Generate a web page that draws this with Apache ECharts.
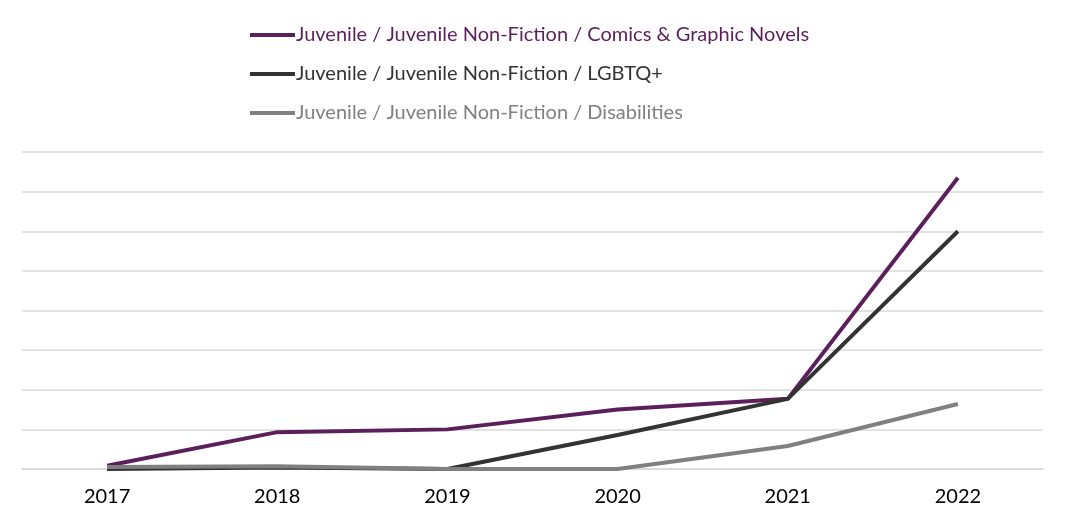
<!DOCTYPE html>
<html><head><meta charset="utf-8">
<script src="https://cdn.jsdelivr.net/npm/echarts@6/dist/echarts.min.js"></script>
<style>html,body{margin:0;padding:0;background:#fff}#c{width:1065px;height:529px}</style>
</head><body><div id="c"></div>
<script>
const categories = ['2017','2018','2019','2020','2021','2022'];
const comics = [0.08, 0.93, 1.0, 1.5, 1.77, 7.35];
const lgbtq = [0, 0.04, 0, 0.86, 1.77, 6.0];
const disabilities = [0.05, 0.07, 0, 0, 0.58, 1.64];
const names = ['Juvenile / Juvenile Non-Fiction / Comics & Graphic Novels','Juvenile / Juvenile Non-Fiction / LGBTQ+','Juvenile / Juvenile Non-Fiction / Disabilities'];
const colors = ['#5b1f5b','#333333','#808080'];
const chart = echarts.init(document.getElementById('c'));
const mk = (n,d,c)=>({name:n,type:'line',data:d,symbol:'none',lineStyle:{width:4,color:c},itemStyle:{color:c}});
chart.setOption({
  animation:false,
  legend:{orient:'vertical',left:245,top:20,itemGap:19,itemWidth:45,itemHeight:4,icon:'rect',
    textStyle:{fontFamily:'Lato',fontSize:20,padding:[0,0,0,-4],rich:{}},
    formatter:n=>n,
    data:names.map((n,i)=>({name:n,textStyle:{color:colors[i]}}))},
  grid:{left:22,right:22,top:152,bottom:60},
  xAxis:{type:'category',data:categories,boundaryGap:true,axisTick:{show:false},
    axisLine:{lineStyle:{color:'#d9d9d9',width:1.5}},
    axisLabel:{color:'#000',fontFamily:'Lato',fontSize:20,margin:18}},
  yAxis:{type:'value',min:0,max:8,interval:1,axisLabel:{show:false},axisLine:{show:false},axisTick:{show:false},
    splitLine:{lineStyle:{color:'#d9d9d9',width:1.5}}},
  series:[mk(names[0],comics,colors[0]),mk(names[1],lgbtq,colors[1]),mk(names[2],disabilities,colors[2])]
});
</script></body></html>
